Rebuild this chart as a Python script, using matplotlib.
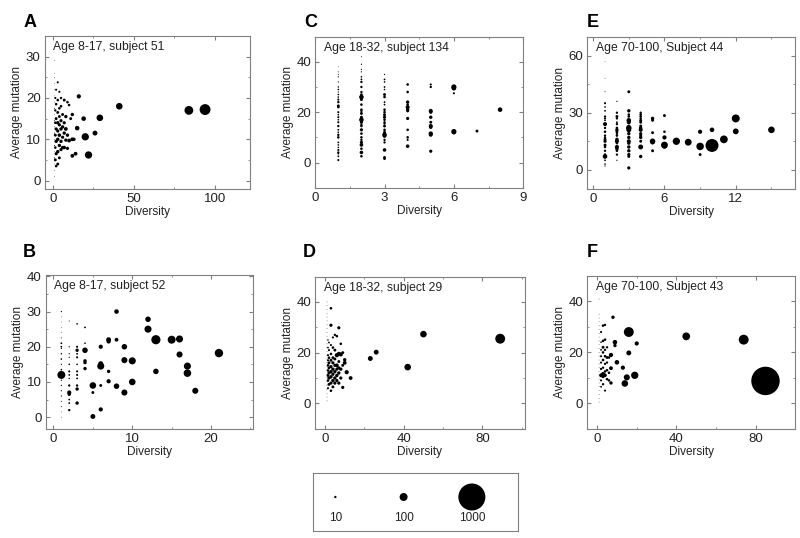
import matplotlib
matplotlib.use("Agg")
import matplotlib.pyplot as plt
from matplotlib.ticker import MultipleLocator, AutoMinorLocator

plt.rcParams['font.family'] = ['Liberation Sans', 'DejaVu Sans']

# (diversity, average mutation, clone count) for each subject
panel_a = [
    # tiny dots, diversity 1
    (1, 1, 1), (1, 2.5, 1), (1, 4, 1), (1, 5.5, 2), (1, 7, 1), (1, 8.5, 2), (1, 10, 1), (1, 11.5, 2),
    (1, 13, 1), (1, 14.5, 2), (1, 16, 1), (1, 17.5, 2), (1, 19, 1), (1, 20.5, 1), (1, 22, 1),
    (1, 23.5, 1), (1, 25, 1), (1, 26, 1), (1, 29, 1),
    (1.5, 5, 15), (1.5, 8, 12), (1.5, 11, 15), (1.5, 14, 12), (1.5, 17, 10), (1.5, 20, 8),
    (2, 3.5, 12), (2, 6.5, 18), (2, 9.5, 20), (2, 12.5, 18), (2, 15, 15), (2, 18.5, 12), (2, 22, 8),
    (3, 4, 15), (3, 7, 20), (3, 10, 20), (3, 12, 18), (3, 14, 20), (3, 16.5, 15), (3, 19.5, 12), (3, 23.8, 8),
    (4, 5.5, 15), (4, 8.5, 20), (4, 11, 22), (4, 13.5, 18), (4, 15.5, 15), (4, 17.5, 12), (4, 21.5, 8),
    (5, 7.5, 18), (5, 9.5, 20), (5, 12.5, 20), (5, 14.5, 18), (5, 18, 12), (5, 20, 10),
    (6, 8, 20), (6, 10.5, 18), (6, 13, 20), (6, 16, 15),
    (7, 8, 22), (7, 11.5, 20), (7, 14, 18), (7, 19.5, 15),
    (8, 9.8, 20), (8, 12.5, 25), (8, 15.5, 20),
    (9, 11, 20), (9, 7.8, 18), (9, 19, 12),
    (10, 9.7, 25), (10, 18.3, 12), (11, 15, 15), (12, 10, 25), (12, 16, 20), (12, 6, 25),
    (14, 6.5, 25), (13, 10, 20), (15, 12.7, 35), (16, 20.4, 30), (19, 15, 35), (20, 10.6, 85),
    (22, 6.2, 85), (26, 11.5, 40), (29, 15.2, 70), (41, 18, 70), (84, 17, 120), (94, 17.2, 180),
]

panel_b = [
    (1, 0, 1), (1, 1.5, 1), (1, 3, 2), (1, 4.5, 2), (1, 6, 3), (1, 7.5, 3), (1, 9, 3), (1, 10.5, 3),
    (1, 13.5, 5), (1, 15, 3), (1, 16.5, 5), (1, 18, 4), (1, 19.5, 3), (1, 20, 6), (1, 21, 6),
    (1, 22.5, 2), (1, 24, 1), (1, 25.5, 1), (1, 27, 1), (1, 28.5, 1), (1, 30, 3), (1, 12, 100),
    (2, 27.3, 2), (2, 20, 3), (2, 18, 3), (2, 15, 5), (2, 13, 8), (2, 12, 6), (2, 9, 10), (2, 7, 30),
    (2, 6.5, 20), (2, 5, 6), (2, 4, 6), (2, 2, 10), (2, 11, 4), (2, 17, 3),
    (3, 26.5, 5), (3, 20, 8), (3, 19, 20), (3, 17, 8), (3, 15, 5), (3, 13, 8), (3, 12, 8), (3, 11, 6),
    (3, 9, 10), (3, 8, 20), (3, 4, 20), (3, 18, 6),
    (4, 25.5, 6), (4, 21, 5), (4, 19, 50), (4, 16, 20), (4, 15.5, 20), (4, 13.8, 20),
    (5, 9, 70), (5, 7, 15), (5, 0.2, 40),
    (6, 20, 30), (6, 14.5, 80), (6, 15.2, 40), (6, 9, 15), (6, 2.2, 30),
    (7, 22, 40), (7, 21.5, 30), (7, 13, 20), (7, 10.2, 30),
    (8, 30, 35), (8, 22, 25), (8, 8.8, 50),
    (9, 20, 50), (9, 16.2, 60), (9, 7, 60),
    (10, 16, 80), (10, 10, 70),
    (12, 27.8, 50), (12, 25, 80), (13, 22, 130), (13, 13, 50), (15, 22, 100),
    (16, 22.2, 80), (16, 17.8, 60), (17, 14.5, 80), (17, 12.5, 90), (18, 7.5, 60), (21, 18.2, 110),
]

panel_c = [
    (1, 38, 1), (1, 36, 2), (1, 34, 3), (1, 32, 3), (1, 30, 4), (1, 29, 5), (1, 27, 5), (1, 25, 8),
    (1, 24, 10), (1, 22.5, 15), (1, 22, 12), (1, 20, 8), (1, 18, 8), (1, 16, 8), (1, 14.5, 10), (1, 13, 6),
    (1, 11, 10), (1, 10, 12), (1, 8, 6), (1, 5, 8), (1, 4, 10), (1, 2.5, 6), (1, 1, 8), (1, 19, 5),
    (1, 26, 5), (1, 7, 5), (1, 17, 5), (1, 12, 5), (1, 6, 5), (1, 28, 3), (1, 35, 2), (1, 3.5, 5),
    (2, 42, 2), (2, 39, 3), (2, 36, 3), (2, 33, 6), (2, 32, 10), (2, 30, 10), (2, 28, 10), (2, 26, 35),
    (2, 25, 15), (2, 23, 12), (2, 21, 12), (2, 19.5, 15), (2, 18, 15), (2, 17, 35), (2, 16, 18),
    (2, 14.5, 12), (2, 13, 18), (2, 11.5, 12), (2, 10, 12), (2, 8, 18), (2, 7, 22), (2, 5.5, 12),
    (2, 4, 22), (2, 2.5, 12), (2, 34, 5), (2, 37, 3), (2, 27, 12), (2, 20.5, 10), (2, 9, 10), (2, 15, 10),
    (3, 35, 3), (3, 33, 6), (3, 30, 6), (3, 27, 15), (3, 26, 12), (3, 24, 6), (3, 21, 12), (3, 20, 12),
    (3, 19, 15), (3, 18, 18), (3, 17, 12), (3, 16, 10), (3, 14.5, 15), (3, 13, 12), (3, 12, 15),
    (3, 11, 35), (3, 10.5, 22), (3, 9, 10), (3, 8, 10), (3, 5, 22), (3, 2, 15), (3, 1.5, 12),
    (3, 23, 6), (3, 15.5, 10), (3, 29, 5), (3, 32, 5),
    (4, 31, 12), (4, 28, 12), (4, 24, 20), (4, 23, 12), (4, 22, 28), (4, 21, 20), (4, 20.5, 15),
    (4, 17.5, 18), (4, 13, 12), (4, 10, 12), (4, 9, 8), (4, 6.5, 22),
    (5, 31, 8), (5, 30, 10), (5, 20.5, 28), (5, 20, 20), (5, 18, 20), (5, 16, 15), (5, 14.5, 28),
    (5, 14, 20), (5, 11.5, 32), (5, 11, 25), (5, 4.5, 18),
    (6, 30, 45), (6, 29.5, 35), (6, 27.5, 8), (6, 12.3, 45), (6, 12, 30),
    (7, 12.5, 15), (8, 21, 35),
]

panel_d = [
    (1, 1, 1), (1, 2.5, 1), (1, 4, 1), (1, 5.5, 1), (1, 7, 1), (1, 8.5, 1), (1, 10, 1), (1, 11.5, 1),
    (1, 13, 1), (1, 14.5, 1), (1, 16, 1), (1, 17.5, 1), (1, 19, 1), (1, 20.5, 1), (1, 22, 1),
    (1, 23.5, 1), (1, 25, 1), (1, 26.5, 1), (1, 28, 1), (1, 29.5, 1), (1, 31, 1), (1, 32.5, 1),
    (1, 34, 1), (1, 35.5, 1), (1, 37, 1), (1, 38.5, 1), (1, 40, 1),
    (1.5, 6, 8), (1.5, 9, 12), (1.5, 11, 15), (1.5, 13, 12), (1.5, 15, 12), (1.5, 17, 8), (1.5, 19, 8),
    (1.5, 22, 6), (1.5, 25, 4),
    (2, 7.5, 15), (2, 10, 18), (2, 12, 18), (2, 14, 15), (2, 16, 15), (2, 18, 12), (2, 21, 8), (2, 24, 6),
    (3, 5, 12), (3, 8, 18), (3, 10.5, 20), (3, 12.5, 20), (3, 14.5, 18), (3, 17, 15), (3, 19.5, 12),
    (3, 23, 8), (3, 30.8, 18), (3, 37.5, 12),
    (4, 6.5, 15), (4, 9, 20), (4, 11.5, 18), (4, 13.5, 20), (4, 16, 18), (4, 18, 15), (4, 22, 12), (4, 26, 8),
    (5, 8, 18), (5, 10, 20), (5, 12.5, 20), (5, 15, 18), (5, 17.5, 15), (5, 21, 15), (5, 27, 10),
    (6, 9, 18), (6, 11, 20), (6, 13.5, 18), (6, 15, 25), (6, 19, 30), (6, 26.5, 12),
    (7, 8, 18), (7, 12, 20), (7, 14, 18), (7, 16.5, 15), (7, 19.5, 30), (7, 29.8, 18),
    (8, 10, 18), (8, 13.5, 20), (8, 19.3, 28), (8, 23.5, 12),
    (9, 6.3, 18), (9, 15, 15), (9, 20, 15),
    (10, 16, 25), (10, 17.2, 20), (11, 12.3, 30), (13, 10, 25),
    (23, 17.7, 40), (26, 20.2, 40), (42, 14.3, 70), (50, 27.3, 70), (89, 25.5, 150),
]

panel_e = [
    (1, 57, 1), (1, 48, 1), (1, 41, 2), (1, 35, 8), (1, 33, 5), (1, 31, 6), (1, 28, 10), (1, 27, 8),
    (1, 24, 28), (1, 22, 10), (1, 20, 12), (1, 18, 10), (1, 16, 15), (1, 15, 18), (1, 13, 15), (1, 12, 12),
    (1, 10, 10), (1, 8, 12), (1, 7, 35), (1, 5, 6), (1, 3, 5), (1, 2, 3), (1, 26, 6), (1, 17, 10),
    (2, 36, 3), (2, 30, 10), (2, 28, 15), (2, 27, 10), (2, 24, 10), (2, 22, 12), (2, 21, 20), (2, 20, 15),
    (2, 18, 12), (2, 16, 20), (2, 15, 28), (2, 14, 12), (2, 12, 28), (2, 11, 20), (2, 10, 12), (2, 8, 10),
    (2, 5, 3), (2, 19, 10), (2, 25, 6),
    (3, 41, 15), (3, 31, 20), (3, 29, 12), (3, 26, 35), (3, 25, 28), (3, 22, 50), (3, 21, 40),
    (3, 19, 20), (3, 17, 20), (3, 15, 28), (3, 14, 20), (3, 12, 20), (3, 10, 20), (3, 8, 18),
    (3, 7, 15), (3, 1, 18), (3, 23, 15), (3, 28, 12),
    (4, 30, 10), (4, 29, 12), (4, 28, 12), (4, 26, 15), (4, 25, 15), (4, 23, 15), (4, 22, 20), (4, 21, 28),
    (4, 19, 18), (4, 17, 20), (4, 15, 15), (4, 12, 40), (4, 7, 20), (4, 18, 15), (4, 27, 10),
    (5, 27, 20), (5, 26, 15), (5, 19.5, 15), (5, 15, 50), (5, 14.5, 35), (5, 10, 15),
    (6, 28.5, 15), (6, 20, 12), (6, 17, 30), (6, 13, 75), (6, 12.5, 45),
    (7, 15, 85), (8, 14.5, 75),
    (9, 20, 30), (9, 12.3, 90), (9, 8, 15),
    (10, 21, 35), (10, 12.8, 250), (11, 16, 95),
    (12, 27, 100), (12, 20.2, 55), (15, 21, 70),
]

panel_f = [
    (1, 0.5, 1), (1, 2, 1), (1, 3.5, 1), (1, 5, 1), (1, 6.5, 1), (1, 8, 1), (1, 9.5, 1), (1, 11, 1),
    (1, 12.5, 1), (1, 14, 1), (1, 15.5, 1), (1, 17, 1), (1, 18.5, 1), (1, 20, 1), (1, 21.5, 1),
    (1, 23, 1), (1, 24.5, 1), (1, 26, 1), (1, 27.5, 1), (1, 29, 1), (1, 30.5, 1), (1, 32, 1),
    (1, 33.5, 1), (1, 35, 1), (1, 41, 1),
    (2, 6.5, 6), (2, 9, 8), (2, 11, 25), (2, 13.5, 10), (2, 16, 8), (2, 18.5, 8), (2, 21, 6), (2, 24, 5),
    (2, 28, 8),
    (3, 7.5, 10), (3, 10.5, 18), (3, 11.5, 28), (3, 14, 10), (3, 17, 12), (3, 20, 12), (3, 22, 15),
    (3, 24.5, 12), (3, 30.5, 12),
    (4, 5, 8), (4, 11, 22), (4, 12.5, 12), (4, 15.5, 10), (4, 18.5, 12), (4, 21, 10), (4, 25, 12), (4, 30.8, 10),
    (5, 9.5, 12), (5, 13, 12), (5, 16, 10), (5, 18, 15), (5, 22, 10),
    (6, 9, 12), (6, 12, 12), (6, 18, 12),
    (7, 8, 20), (7, 13.8, 25), (7, 19, 30),
    (8, 33.8, 20), (9, 22.7, 20), (9, 24, 35), (10, 16.1, 35), (13, 14, 30), (14, 7.8, 70),
    (15, 10.2, 60), (16, 19.8, 40), (16, 28, 150), (19, 11, 85), (20, 23.5, 30), (45, 26.3, 95),
    (74, 25, 150), (85, 8.8, 1100),
]

titles = ["Age 8-17, subject 51", "Age 8-17, subject 52",
          "Age 18-32, subject 134", "Age 18-32, subject 29",
          "Age 70-100, Subject 44", "Age 70-100, Subject 43"]
letters = ["A", "B", "C", "D", "E", "F"]
xlims = [(-5, 122), (-1, 25.3), (0, 9), (-5, 101.5), (-0.5, 17), (-5, 100)]
ylims = [(-2, 35), (-3.3, 40.4), (-10, 50), (-10, 50), (-10, 70), (-10, 50)]
xsteps = [50, 10, 3, 40, 6, 40]
ysteps = [10, 10, 20, 20, 30, 20]
legend_counts = [10, 100, 1000]


def msize(n):
    # marker area grows a bit faster than the count
    return 0.25 * n ** 1.06


GREY = '#808080'

# left, bottom, width, height in figure fractions
boxes = [
    (0.056, 0.649, 0.257, 0.284), (0.057, 0.203, 0.259, 0.286),
    (0.394, 0.651, 0.260, 0.281), (0.394, 0.203, 0.262, 0.283),
    (0.734, 0.649, 0.260, 0.283), (0.734, 0.203, 0.260, 0.284),
]
letter_pos = [(0.029, 0.974), (0.029, 0.547), (0.380, 0.974), (0.378, 0.547),
              (0.733, 0.974), (0.733, 0.547)]

fig = plt.figure(figsize=(8, 5.38), dpi=100)
panels = [panel_a, panel_b, panel_c, panel_d, panel_e, panel_f]

for i, data in enumerate(panels):
    ax = fig.add_axes(boxes[i])
    xs = [p[0] for p in data]
    ys = [p[1] for p in data]
    ss = [msize(p[2]) for p in data]
    ax.scatter(xs, ys, s=ss, c='black', linewidths=0)
    ax.set_xlim(*xlims[i])
    ax.set_ylim(*ylims[i])
    ax.xaxis.set_major_locator(MultipleLocator(xsteps[i]))
    ax.yaxis.set_major_locator(MultipleLocator(ysteps[i]))
    ax.xaxis.set_minor_locator(AutoMinorLocator(2))
    ax.yaxis.set_minor_locator(AutoMinorLocator(2))
    ax.tick_params(which='both', direction='in', top=True, right=True, color=GREY,
                   labelsize=9.5, labelcolor='#222222', pad=3)
    ax.tick_params(which='major', length=3)
    ax.tick_params(which='minor', length=1.5)
    for sp in ax.spines.values():
        sp.set_color(GREY)
        sp.set_linewidth(0.8)
    ax.set_xlabel("Diversity", fontsize=8.5, color='#222222', labelpad=1)
    ax.set_ylabel("Average mutation", fontsize=8.5, color='#222222', labelpad=2)
    ax.text(0.04, 0.965, titles[i], transform=ax.transAxes, ha='left', va='top',
            fontsize=8.7, color='#222222')
    fig.text(letter_pos[i][0], letter_pos[i][1], letters[i], fontsize=13,
             fontweight='bold', ha='left', va='top')

# size key
lax = fig.add_axes((0.391, 0.013, 0.256, 0.108))
lax.scatter([0, 1, 2], [0, 0, 0], s=[msize(n) for n in legend_counts], c='black', linewidths=0)
for j, n in enumerate(legend_counts):
    lax.text(j, -0.75, str(n), ha='center', va='center', fontsize=8.5, color='#222222')
lax.set_xlim(-0.33, 2.67)
lax.set_ylim(-1.2, 0.85)
lax.set_xticks([])
lax.set_yticks([])
for sp in lax.spines.values():
    sp.set_color(GREY)
    sp.set_linewidth(0.8)

fig.savefig("out.png", dpi=100)
